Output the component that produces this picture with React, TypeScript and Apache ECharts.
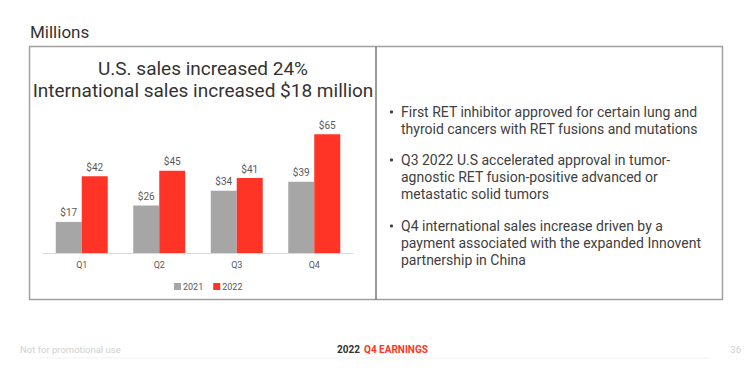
import React, { useEffect, useRef } from "react";
import * as echarts from "echarts";

const categories = ["Q1", "Q2", "Q3", "Q4"];
const sales2021 = [17, 26, 34, 39];
const sales2022 = [42, 45, 41, 65];
const seriesNames = ["2021", "2022"];
const titleLines = ["U.S. sales increased 24%", "International sales increased $18 million"];
const bullets = [
  ["First RET inhibitor approved for certain lung and", "thyroid cancers with RET fusions and mutations"],
  ["Q3 2022 U.S accelerated approval in tumor-", "agnostic RET fusion-positive advanced or", "metastatic solid tumors"],
  ["Q4 international sales increase driven by a", "payment associated with the expanded Innovent", "partnership in China"],
];

const FONT = "Roboto, 'Open Sans', sans-serif";
const GRAY = "#a6a6a6";
const RED = "#ff3326";

export default function App() {
  const ref = useRef<HTMLDivElement>(null);
  useEffect(() => {
    if (!ref.current) return;
    const chart = echarts.init(ref.current, null, { renderer: "svg" });
    const bulletTops = [112, 160, 226];
    const graphics: any[] = [
      { type: "rect", shape: { x: 29.5, y: 46.5, width: 693, height: 253 }, style: { fill: "none", stroke: "#a0a0a0", lineWidth: 1.5 } },
      { type: "line", shape: { x1: 376, y1: 46.5, x2: 376, y2: 299.5 }, style: { stroke: "#7a7a7a", lineWidth: 1.5 } },
      { type: "text", x: 30, y: 32, style: { text: "Millions", font: `17px ${FONT}`, fill: "#333", verticalAlign: "middle" } },
      { type: "text", x: 203, y: 68, style: { text: titleLines[0], font: `19px ${FONT}`, fill: "#333", align: "center", verticalAlign: "middle" } },
      { type: "text", x: 203, y: 90, style: { text: titleLines[1], font: `19px ${FONT}`, fill: "#333", align: "center", verticalAlign: "middle" } },
      { type: "text", x: 20, y: 349, style: { text: "Not for promotional use", font: `9.5px ${FONT}`, fill: "#d0d0d0", verticalAlign: "middle" } },
      { type: "text", x: 741, y: 349, style: { text: "36", font: `9.5px ${FONT}`, fill: "#d0d0d0", align: "right", verticalAlign: "middle" } },
      { type: "text", x: 337, y: 349, style: { text: "2022", font: `bold 10px ${FONT}`, fill: "#333", verticalAlign: "middle" } },
      { type: "text", x: 364, y: 349, style: { text: "Q4 EARNINGS", font: `bold 10px ${FONT}`, fill: RED, verticalAlign: "middle" } },
      { type: "line", shape: { x1: 40, y1: 358, x2: 710, y2: 358 }, style: { stroke: "#f2f2f2", lineWidth: 1 } },
    ];
    bullets.forEach((lines, i) => {
      graphics.push({ type: "circle", shape: { cx: 391.5, cy: bulletTops[i], r: 1.6 }, style: { fill: "#404040" } });
      lines.forEach((ln, j) => {
        graphics.push({ type: "text", x: 401, y: bulletTops[i] + j * 16.8, style: { text: ln, font: `14px ${FONT}`, fill: "#404040", verticalAlign: "middle" } });
      });
    });
    chart.setOption({
      animation: false,
      textStyle: { fontFamily: FONT },
      grid: { left: 43, width: 310, top: 125, bottom: 115 },
      legend: {
        left: 169, top: 277, itemWidth: 7, itemHeight: 7, itemGap: 10,
        icon: "rect",
        textStyle: { fontSize: 9, color: "#595959", padding: [0, 0, 0, -3] },
        data: seriesNames,
      },
      xAxis: {
        type: "category", data: categories,
        axisLine: { lineStyle: { color: "#d9d9d9" } },
        axisTick: { show: false },
        axisLabel: { fontSize: 9, color: "#595959", margin: 7 },
      },
      yAxis: { type: "value", min: 0, max: 70, show: false, splitLine: { show: false } },
      series: [
        {
          name: seriesNames[0], type: "bar", data: sales2021, barWidth: 26, barGap: "0%", itemStyle: { color: GRAY },
          label: { show: true, position: "top", formatter: "${c}", fontSize: 10, color: "#595959", distance: 4 },
        },
        {
          name: seriesNames[1], type: "bar", data: sales2022, barWidth: 26, barGap: "0%", itemStyle: { color: RED },
          label: { show: true, position: "top", formatter: "${c}", fontSize: 10, color: "#595959", distance: 4 },
        },
      ],
      graphic: graphics,
    });
    return () => chart.dispose();
  }, []);
  return <div ref={ref} style={{ position: "absolute", left: 0, top: 0, width: 747, height: 368, background: "#fff" }} />;
}
